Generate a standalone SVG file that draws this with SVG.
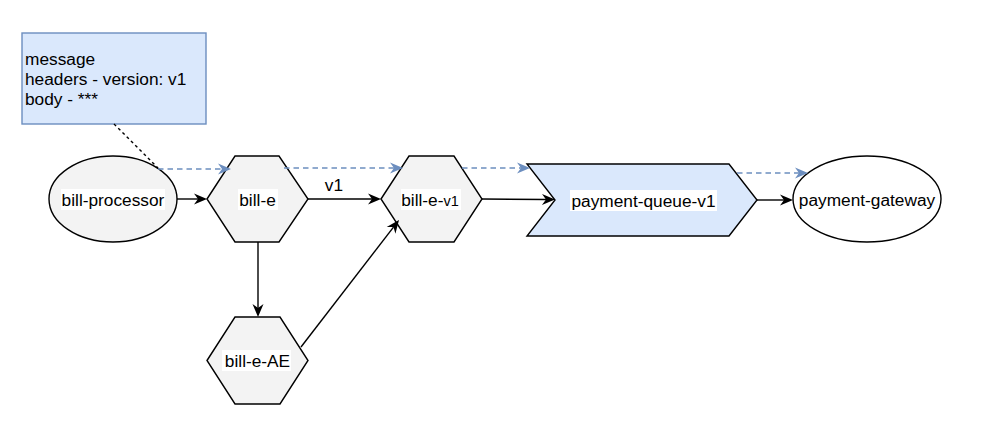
<svg xmlns="http://www.w3.org/2000/svg" width="985" height="437" viewBox="0 0 985 437">
<style>
text{font-family:"Liberation Sans",Arial,sans-serif;font-size:17.3px;fill:#000}
.c{text-anchor:middle}
.n{fill:#f3f3f3;stroke:#000;stroke-width:1.4}
.b{fill:#dae8fc;stroke:#000;stroke-width:1.4}
.bg{fill:#fff}
.e{fill:none;stroke:#000;stroke-width:1.4}
.d{fill:none;stroke:#6c8ebf;stroke-width:1.4;stroke-dasharray:5.5 4}
</style>
<defs>
<marker id="ak" viewBox="-14 -7 15 14" refX="-9" refY="0" markerWidth="15" markerHeight="14" markerUnits="userSpaceOnUse" orient="auto"><path d="M0,0 L-13,-5.5 L-9,0 L-13,5.5 Z" fill="#000"/></marker>
<marker id="ab" viewBox="-14 -7 15 14" refX="-9" refY="0" markerWidth="15" markerHeight="14" markerUnits="userSpaceOnUse" orient="auto"><path d="M0,0 L-13,-5.5 L-9,0 L-13,5.5 Z" fill="#6c8ebf"/></marker>
</defs>
<rect width="985" height="437" fill="#fff"/>
<g id="note">
<rect x="22" y="33" width="184" height="91" fill="#dae8fc" stroke="#6c8ebf" stroke-width="1.4"/>
<text x="25" y="65">message</text>
<text x="25" y="85">headers - version: v1</text>
<text x="25" y="105">body - ***</text>
</g>
<g id="bill-processor">
<ellipse cx="113" cy="199" rx="64" ry="43" class="n"/>
<rect x="61" y="189" width="104" height="21" class="bg"/>
<text x="113" y="205.5" class="c">bill-processor</text>
</g>
<g id="bill-e">
<polygon points="207,199 235,156 279,156 308,199 279,242 235,242" class="n"/>
<rect x="238" y="189" width="40" height="21" class="bg"/>
<text x="257.5" y="205.5" class="c">bill-e</text>
</g>
<g id="bill-e-v1">
<polygon points="381,199 409,156 454,156 482,199 454,242 409,242" class="n"/>
<rect x="401" y="189" width="60" height="21" class="bg"/>
<text x="430" y="205.5" class="c">bill-e-<tspan font-size="14.5">v1</tspan></text>
</g>
<g id="bill-e-AE">
<polygon points="207,360.5 235,317 280,317 308,360.5 280,404 235,404" class="n"/>
<rect x="222" y="350" width="69" height="21" class="bg"/>
<text x="257.5" y="367" class="c">bill-e-AE</text>
</g>
<g id="payment-queue-v1">
<polygon points="527,164 729,164 757,200 729,236 527,236 555,200" class="b"/>
<rect x="570" y="190" width="147" height="21" class="bg"/>
<text x="643.5" y="206.5" class="c">payment-queue-v1</text>
</g>
<g id="payment-gateway">
<ellipse cx="867" cy="199" rx="74" ry="43" fill="#fff" stroke="#000" stroke-width="1.4"/>
<text x="867" y="206" class="c">payment-gateway</text>
</g>
<g id="connectors">
<line x1="177" y1="199" x2="198" y2="199" class="e" marker-end="url(#ak)"/>
<line x1="308" y1="199" x2="372" y2="199" class="e" marker-end="url(#ak)"/>
<text x="334" y="191" class="c">v1</text>
<line x1="482" y1="199" x2="546" y2="199.5" class="e" marker-end="url(#ak)"/>
<line x1="757" y1="200" x2="784" y2="200" class="e" marker-end="url(#ak)"/>
<line x1="258" y1="242" x2="258" y2="308" class="e" marker-end="url(#ak)"/>
<line x1="301" y1="347" x2="393.5" y2="227.1" class="e" marker-end="url(#ak)"/>
<line x1="158" y1="169" x2="222" y2="169" class="d" marker-end="url(#ab)"/>
<line x1="284" y1="168" x2="394" y2="168" class="d" marker-end="url(#ab)"/>
<line x1="462" y1="168" x2="521" y2="168" class="d" marker-end="url(#ab)"/>
<line x1="737" y1="173" x2="799" y2="173" class="d" marker-end="url(#ab)"/>
<line x1="114" y1="124" x2="158" y2="168" fill="none" stroke="#000" stroke-width="1.4" stroke-dasharray="3 3"/>
</g>
</svg>
